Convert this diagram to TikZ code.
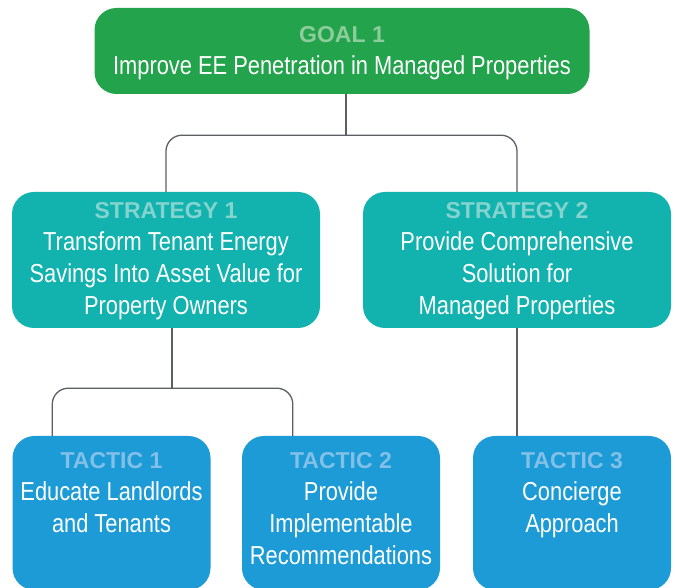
\documentclass[tikz,border=0pt]{standalone}
\usepackage{fontspec}
\usepackage{xcolor}
\setmainfont{Liberation Sans}
\newfontfamily\narrowfont[FakeStretch=0.84]{Liberation Sans}
\usetikzlibrary{positioning,calc}
\definecolor{goalgreen}{HTML}{23A34B}
\definecolor{goallight}{HTML}{8ECC9C}
\definecolor{stratteal}{HTML}{12B3AF}
\definecolor{stratlight}{HTML}{84D3CF}
\definecolor{tacticblue}{HTML}{1C9BD7}
\definecolor{tacticlight}{HTML}{82C0E8}
\definecolor{linegray}{HTML}{5B5E63}
\newcommand{\boxtitle}[2]{{\rmfamily\bfseries\fontsize{23}{32}\selectfont\color{#1}#2}}

\begin{document}
\begin{tikzpicture}[
  x=1pt, y=1pt,
  box/.style={rectangle, rounded corners=22pt, inner sep=0pt},
  goalbox/.style={box, fill=goalgreen, minimum width=495pt, minimum height=86pt},
  stratbox/.style={box, fill=stratteal, minimum width=308pt, minimum height=136pt},
  tacticbox/.style={box, fill=tacticblue, minimum width=198pt, minimum height=154pt},
  txt/.style={anchor=north, align=center, text=white, inner sep=0pt,
    font=\narrowfont\fontsize{26}{32}\selectfont},
  conn/.style={draw=linegray, line width=1.3pt, rounded corners=16pt}
]
\useasboundingbox (0,0) rectangle (675,588);

\node[goalbox]   (goal) at (342,537) {};
\node[stratbox]  (s1) at (166,328) {};
\node[stratbox]  (s2) at (517,328) {};
\node[tacticbox] (t1) at (111.5,75) {};
\node[tacticbox] (t2) at (341,75) {};
\node[tacticbox] (t3) at (572,75) {};

\node[txt] (goaltext) at ($(goal.north)+(0,-18.5)$)
  {\boxtitle{goallight}{GOAL 1}\\Improve EE Penetration in Managed Properties};
\node[txt] (s1text) at ($(s1.north)+(0,-10.5)$)
  {\boxtitle{stratlight}{STRATEGY 1}\\Transform Tenant Energy\\Savings Into Asset Value for\\Property Owners};
\node[txt] (s2text) at ($(s2.north)+(0,-10.5)$)
  {\boxtitle{stratlight}{STRATEGY 2}\\Provide Comprehensive\\Solution for\\Managed Properties};
\node[txt] (t1text) at ($(t1.north)+(0,-16.5)$)
  {\boxtitle{tacticlight}{TACTIC 1}\\Educate Landlords\\and Tenants};
\node[txt] (t2text) at ($(t2.north)+(0,-16.5)$)
  {\boxtitle{tacticlight}{TACTIC 2}\\Provide\\Implementable\\Recommendations};
\node[txt] (t3text) at ($(t3.north)+(0,-16.5)$)
  {\boxtitle{tacticlight}{TACTIC 3}\\Concierge\\Approach};

\coordinate (gj) at ($(goal.south)+(4,-41)$);
\coordinate (sj) at ($(s1.south)+(6,-60)$);
\draw[conn] (goal.south -| gj) -- (gj);
\draw[conn] (s1.north) |- (gj) -| (s2.north);
\draw[conn] (s1.south -| sj) -- (sj);
\draw[conn] ($(t1.north west)+(40,0)$) |- (sj) -| ($(t2.north west)+(51,0)$);
\draw[conn] (s2.south) -- (s2.south |- t3.north);
\end{tikzpicture}
\end{document}
